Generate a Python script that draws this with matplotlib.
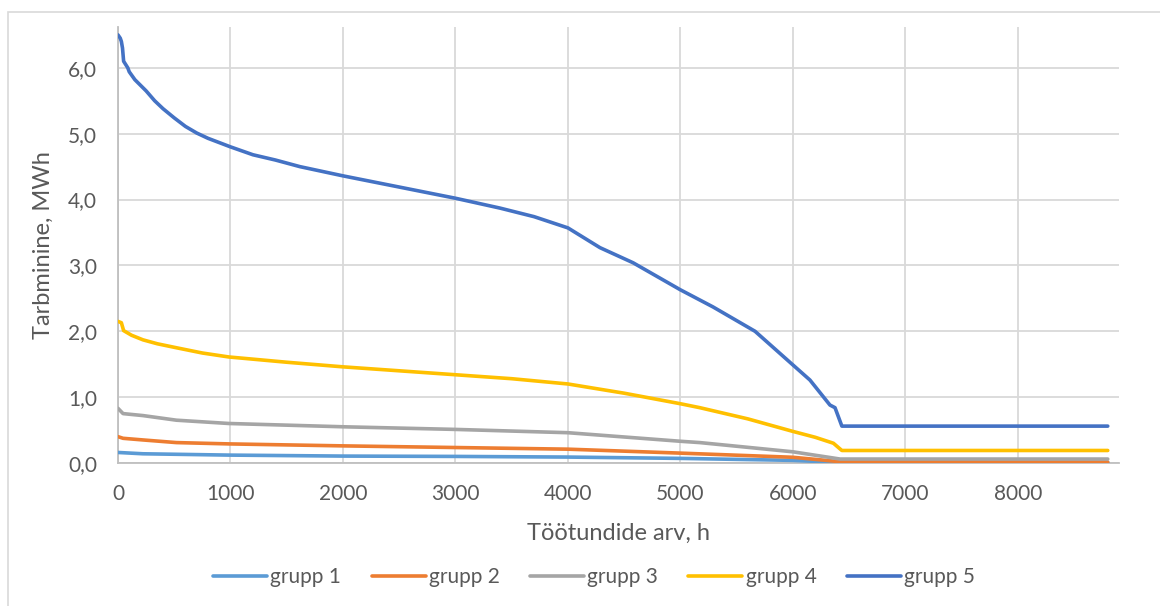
import matplotlib
matplotlib.use("Agg")
import matplotlib.pyplot as plt
from matplotlib.ticker import FuncFormatter
from matplotlib.patches import Rectangle

plt.rcParams['font.family'] = ['Lato', 'DejaVu Sans']

# ---- data ----
series_names = ["grupp 1", "grupp 2", "grupp 3", "grupp 4", "grupp 5"]

g1_h = [0, 222, 985, 2000, 3000, 4000, 5000, 6000, 6420, 8800]
g1_v = [0.16, 0.14, 0.12, 0.105, 0.10, 0.09, 0.07, 0.04, 0.008, 0.005]

g2_h = [0, 45, 222, 519, 985, 2000, 3000, 4000, 5000, 6000, 6420, 8800]
g2_v = [0.40, 0.375, 0.35, 0.31, 0.29, 0.26, 0.235, 0.21, 0.15, 0.087, 0.02, 0.015]

g3_h = [0, 45, 222, 519, 985, 2000, 3000, 4000, 5000, 5173, 6000, 6420, 8800]
g3_v = [0.83, 0.75, 0.72, 0.65, 0.60, 0.55, 0.51, 0.46, 0.33, 0.31, 0.17, 0.06, 0.06]

g4_h = [0, 30, 50, 120, 222, 350, 519, 750, 985, 1500, 2000, 3000, 3500, 4000, 4500,
        5000, 5173, 5600, 6000, 6200, 6361, 6436, 8800]
g4_v = [2.15, 2.13, 2.01, 1.94, 1.87, 1.81, 1.75, 1.67, 1.61, 1.53, 1.46, 1.34, 1.28, 1.20, 1.06,
        0.90, 0.84, 0.67, 0.48, 0.39, 0.30, 0.19, 0.19]

g5_h = [0, 20, 30, 40, 50, 87, 100, 150, 250, 326, 400, 500, 600, 700, 800, 1000, 1200, 1400,
        1617, 2000, 2500, 3000, 3397, 3700, 4000, 4285, 4580, 5000, 5290, 5664, 6000, 6152,
        6330, 6375, 6436, 8800]
g5_v = [6.50, 6.45, 6.40, 6.30, 6.10, 6.00, 5.94, 5.82, 5.65, 5.50, 5.38, 5.24, 5.11, 5.01, 4.93,
        4.80, 4.68, 4.60, 4.50, 4.36, 4.19, 4.02, 3.87, 3.74, 3.57, 3.27, 3.04, 2.63, 2.37, 2.00,
        1.49, 1.26, 0.88, 0.84, 0.56, 0.56]

colors = ["#5B9BD5", "#ED7D31", "#A5A5A5", "#FFC000", "#4472C4"]

x_ticks = [0, 1000, 2000, 3000, 4000, 5000, 6000, 7000, 8000]
y_ticks = [0, 1, 2, 3, 4, 5, 6]

# ---- figure ----
W, H = 1160, 606
fig = plt.figure(figsize=(W / 100, H / 100), dpi=100)
fig.patches.append(Rectangle((8 / W, -0.05), 1.2, (606 - 12) / H + 0.05,
                             transform=fig.transFigure, fill=False,
                             edgecolor="#D9D9D9", linewidth=1.2, zorder=0))

ax = fig.add_axes([118 / W, (H - 463) / H, (1119 - 118) / W, (463 - 27) / H])

data = [(g1_h, g1_v), (g2_h, g2_v), (g3_h, g3_v), (g4_h, g4_v), (g5_h, g5_v)]
for (h, v), name, c in zip(data, series_names, colors):
    ax.plot(h, v, color=c, linewidth=2.6, label=name, solid_capstyle="round",
            solid_joinstyle="round", zorder=3)

ax.set_xlim(0, 8900)
ax.set_ylim(0, 6.62)
ax.set_xticks(x_ticks)
ax.set_yticks(y_ticks)
ax.yaxis.set_major_formatter(FuncFormatter(lambda v, p: f"{v:.1f}".replace(".", ",")))
ax.grid(True, color="#D9D9D9", linewidth=1.3, zorder=0)
ax.set_axisbelow(True)
for s in ["top", "right"]:
    ax.spines[s].set_visible(False)
for s in ["left", "bottom"]:
    ax.spines[s].set_color("#BFBFBF")
    ax.spines[s].set_linewidth(1.3)
ax.tick_params(length=0, labelsize=15, colors="#595959")
ax.tick_params(axis="x", pad=15)
ax.tick_params(axis="y", pad=15)

ax.set_xlabel("Töötundide arv, h", fontsize=17, color="#595959", labelpad=14)
ax.set_ylabel("Tarbminine, MWh", fontsize=17, color="#595959", labelpad=10)

leg = fig.legend(loc="center", bbox_to_anchor=(594 / W, (H - 577) / H), ncol=5,
                 frameon=False, fontsize=15, handlelength=2.6, handletextpad=0.15,
                 columnspacing=1.45)
for t in leg.get_texts():
    t.set_color("#595959")

fig.savefig("out.png", dpi=100)
